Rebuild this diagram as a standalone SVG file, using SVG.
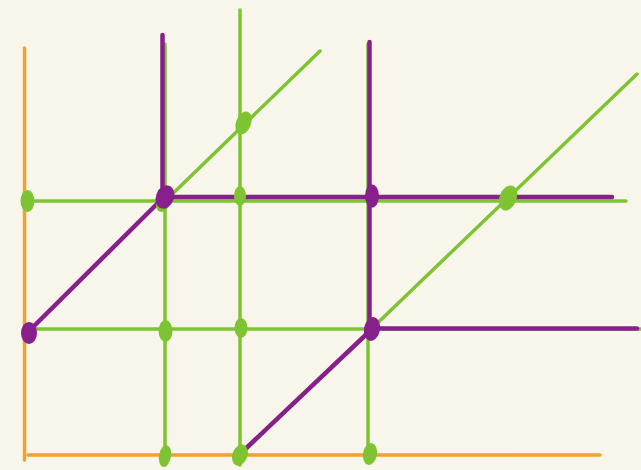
<svg xmlns="http://www.w3.org/2000/svg" width="641" height="470" viewBox="0 0 641 470">
<style>
.o{stroke:#f5a02a;stroke-width:3.5;stroke-linecap:round;fill:none}
.g{stroke:#7ec432;stroke-width:3.5;stroke-linecap:round;fill:none}
.p{stroke:#871f8c;stroke-width:4.5;stroke-linecap:round;fill:none}
.gd{fill:#7ec432}
.pd{fill:#871f8c}
</style>
<rect width="641" height="470" fill="#f8f6ea"/>
<g id="connectors">
<line class="o" x1="24.5" y1="48" x2="24.5" y2="460"/>
<line class="o" x1="28" y1="455" x2="600" y2="455"/>
<line class="g" x1="24" y1="201" x2="626" y2="201"/>
<line class="g" x1="24" y1="329" x2="641" y2="329"/>
<line class="g" x1="165" y1="44" x2="165" y2="465"/>
<line class="g" x1="240" y1="10" x2="240" y2="465"/>
<line class="g" x1="368" y1="44" x2="368" y2="460"/>
<line class="g" x1="160" y1="206" x2="320" y2="51"/>
<line class="g" x1="240" y1="455" x2="637" y2="74"/>
<line class="p" x1="162.5" y1="35" x2="162.5" y2="200"/>
<line class="p" x1="165" y1="197" x2="612" y2="197"/>
<line class="p" x1="27" y1="333" x2="165" y2="196"/>
<line class="p" x1="369.5" y1="42" x2="369.5" y2="330"/>
<line class="p" x1="372" y1="328.5" x2="637" y2="328.5"/>
<line class="p" x1="240" y1="454" x2="372" y2="329"/>
</g>
<g id="green-dots">
<ellipse class="gd" cx="27.5" cy="201" rx="7" ry="11"/>
<ellipse class="gd" cx="243.5" cy="123" rx="7.5" ry="12" transform="rotate(20 243.5 123)"/>
<ellipse class="gd" cx="240" cy="196" rx="6" ry="10"/>
<ellipse class="gd" cx="162" cy="206" rx="6" ry="6"/>
<ellipse class="gd" cx="165.5" cy="331" rx="7" ry="11"/>
<ellipse class="gd" cx="241" cy="328" rx="6.5" ry="10"/>
<ellipse class="gd" cx="165" cy="456" rx="6" ry="11" transform="rotate(10 165 456)"/>
<ellipse class="gd" cx="240" cy="455" rx="7.5" ry="11" transform="rotate(20 240 455)"/>
<ellipse class="gd" cx="370" cy="454" rx="7" ry="11" transform="rotate(10 370 454)"/>
<ellipse class="gd" cx="508" cy="198" rx="8.5" ry="13" transform="rotate(20 508 198)"/>
</g>
<g id="purple-dots">
<ellipse class="pd" cx="165" cy="197" rx="9" ry="12" transform="rotate(20 165 197)"/>
<ellipse class="pd" cx="372" cy="196" rx="7" ry="11.5"/>
<ellipse class="pd" cx="29" cy="333" rx="8" ry="11"/>
<ellipse class="pd" cx="372" cy="329" rx="8" ry="12" transform="rotate(10 372 329)"/>
</g>
</svg>
